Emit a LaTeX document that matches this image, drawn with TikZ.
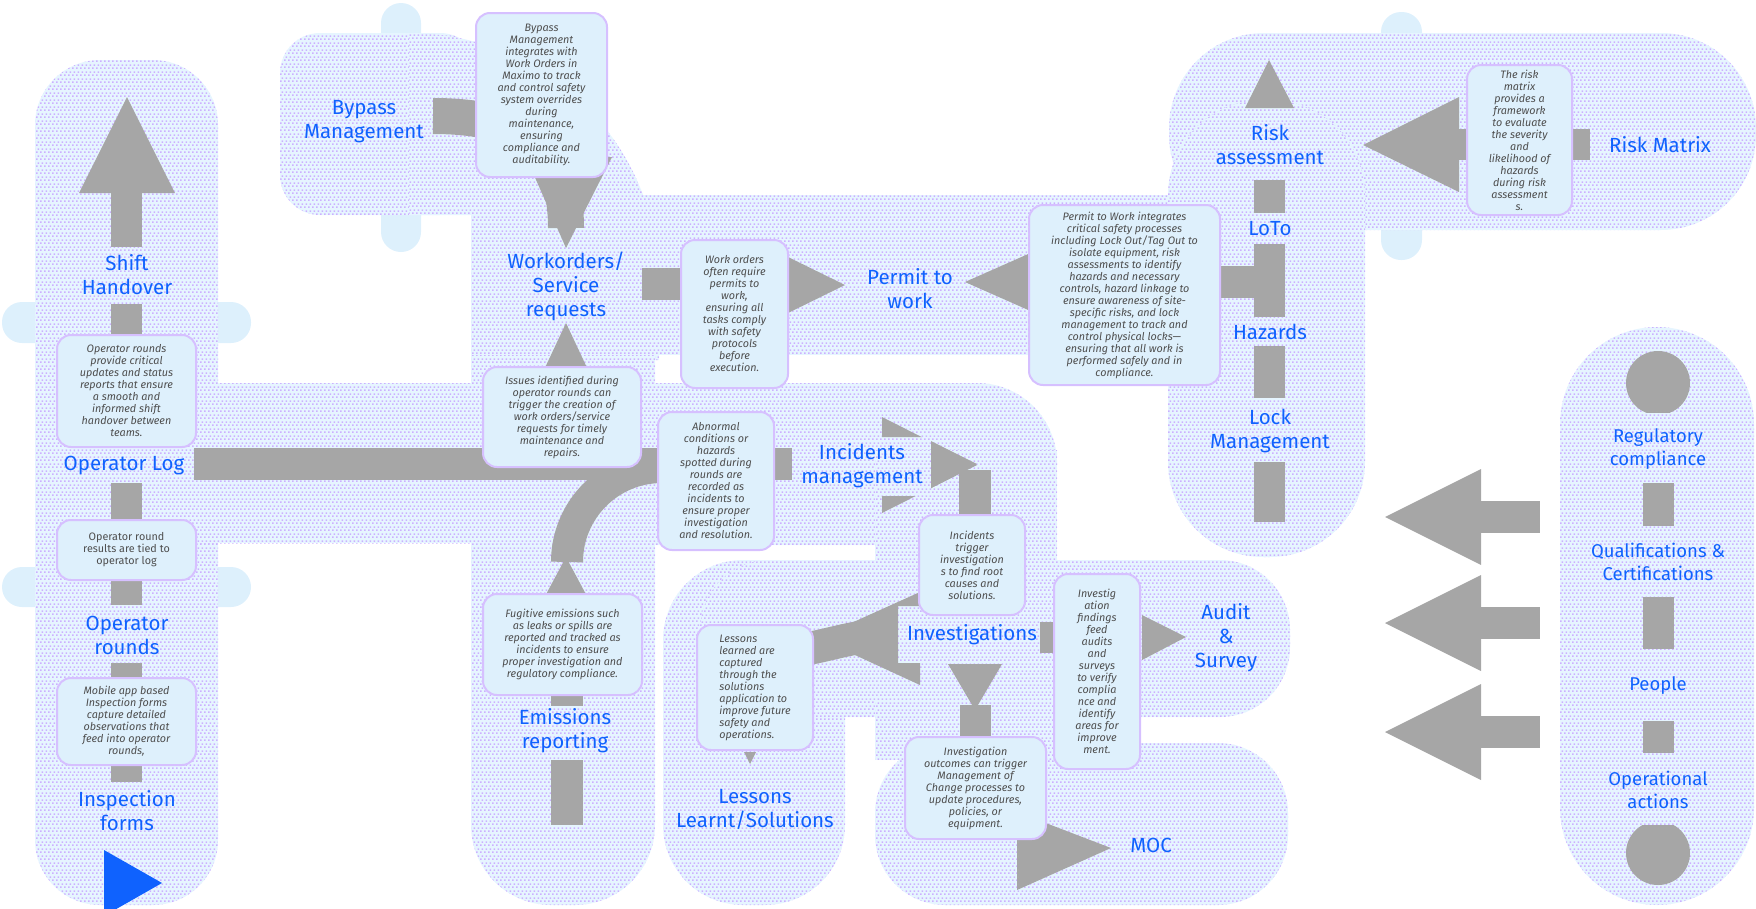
\documentclass[tikz,border=0pt]{standalone}
\usepackage{fontspec}
\setmainfont{Fira Sans}
\usetikzlibrary{patterns.meta}
\definecolor{ibmblue}{RGB}{15,98,254}
\definecolor{bargray}{RGB}{166,166,166}
\definecolor{bgblue}{RGB}{230,245,255}
\definecolor{dotlilac}{RGB}{204,176,255}
\definecolor{tabblue}{RGB}{221,240,252}
\definecolor{notefill}{RGB}{222,240,252}
\definecolor{noteline}{RGB}{214,192,255}
\definecolor{notetext}{RGB}{78,78,78}
\pgfdeclarepattern{
  name=dashrows,
  type=uncolored,
  bottom left={\pgfpoint{0pt}{0pt}},
  top right={\pgfpoint{4pt}{6.6pt}},
  tile size={\pgfpoint{4pt}{6.6pt}},
  code={
    \pgfpathrectangle{\pgfpoint{0pt}{0pt}}{\pgfpoint{2pt}{1.6pt}}
    \pgfpathrectangle{\pgfpoint{2pt}{3.3pt}}{\pgfpoint{2pt}{1.6pt}}
    \pgfusepath{fill}
  }
}
\tikzset{
  blob/.style={fill=bgblue, postaction={pattern=dashrows, pattern color=dotlilac}},
  tab/.style={fill=tabblue, rounded corners=20pt},
  bar/.style={fill=bargray},
  barline/.style={draw=bargray, line width=#1},
  barline/.default=32pt,
  lbl/.style={text=ibmblue, align=center, inner sep=0pt,
    font=\fontsize{20.5}{24}\selectfont},
  rlbl/.style={text=ibmblue, align=center, inner sep=0pt,
    font=\fontsize{18.5}{23}\selectfont},
  note/.style={fill=notefill, draw=noteline, line width=2pt, rounded corners=14pt,
    align=center, text=notetext, inner sep=2pt,
    font=\fontsize{10.8}{12}\selectfont\itshape},
}
\begin{document}
\begin{tikzpicture}[x=1pt, y=-1pt]
  \useasboundingbox (0,0) rectangle (1756,908);

  % side tabs
  \fill[tab] (2,302) rectangle (251,343);
  \fill[tab] (2,567) rectangle (251,607);
  \fill[tab] (381,3) rectangle (421,252);
  \fill[tab] (1381,12) rectangle (1422,260);

  % background regions
  \fill[blob, rounded corners=65pt] (35,60) rectangle (218,905);
  \fill[blob] (200,383) rectangle (490,543);
  \fill[blob, rounded corners=40pt] (280,33) rectangle (480,215);
  \fill[blob] (409,33) arc[start angle=-90, end angle=0, radius=250]
    -- (659,360) -- (471,360) -- (471,215) -- (409,215) -- cycle;
  \fill[blob, rounded corners=80pt] (471,195) rectangle (655,905);
  \fill[blob] (471,195) rectangle (1200,355);
  \fill[blob, rounded corners=80pt] (560,383) rectangle (1057,545);
  \fill[blob] (875,450) rectangle (1057,600);
  \fill[blob, rounded corners=80pt] (663,560) rectangle (845,905);
  \fill[blob, rounded corners=70pt] (700,560) rectangle (1290,717);
  \fill[blob, rounded corners=70pt] (875,743) rectangle (1288,905);
  \fill[blob] (875,700) rectangle (1140,760);
  \fill[blob, rounded corners=95pt] (1169,33) rectangle (1756,230);
  \fill[blob, rounded corners=95pt] (1168,100) rectangle (1365,557);
  \fill[blob, rounded corners=97pt] (1560,327) rectangle (1754,905);

  % left column
  \fill[bar] (79,193) -- (127,97) -- (175,193) -- cycle;
  \foreach \ya/\yb in {193/247, 304/335, 483/520, 580/605, 663/678, 765/782}
    \fill[bar] (111,\ya) rectangle (142,\yb);
  \fill[ibmblue] (104,850) -- (162,883) -- (104,916) -- cycle;

  % operator log line and emissions
  \fill[bar] (194,448) rectangle (665,480);
  \draw[barline] (567,562) arc[start angle=180, end angle=270, radius=95];
  \fill[bar] (543,600) -- (566,557) -- (589,600) -- cycle;
  \fill[bar] (551,690) rectangle (583,706);
  \fill[bar] (551,760) rectangle (583,825);
  \fill[bar] (543,372) -- (566,323) -- (589,372) -- cycle;

  % bypass to workorders
  \draw[barline=36pt] (433,116) .. controls (520,116) and (566,145) .. (566,228);
  \fill[bar] (526,157) -- (612,157) -- (566,248) -- cycle;

  % workorders to permit
  \fill[bar] (642,268) rectangle (800,300);
  \fill[bar] (788,257) -- (845,285) -- (788,313) -- cycle;
  \fill[bar] (1200,266) rectangle (1270,298);
  \fill[bar] (1035,251) -- (965,282) -- (1035,313) -- cycle;

  % risk column
  \fill[bar] (1245,108) -- (1269,60) -- (1294,108) -- cycle;
  \foreach \ya/\yb in {180/213, 244/317, 346/398, 462/522}
    \fill[bar] (1254,\ya) rectangle (1285,\yb);
  \fill[bar] (1459,97) -- (1363,145) -- (1459,192) -- cycle;
  \fill[bar] (1455,129) rectangle (1590,160);

  % right column
  \foreach \ya/\yb in {483/526, 597/649, 721/753}
    \fill[bar] (1643,\ya) rectangle (1674,\yb);
  \foreach \yc in {517, 623, 732} {
    \fill[bar] (1481,\yc-48) -- (1385,\yc) -- (1481,\yc+48) -- cycle;
    \fill[bar] (1478,\yc-16) rectangle (1540,\yc+16);
  }
  \begin{scope}
    \clip (1600,340) rectangle (1720,412);
    \fill[bar] (1658,383) circle (32);
  \end{scope}
  \begin{scope}
    \clip (1600,825) rectangle (1720,900);
    \fill[bar] (1658,853) circle (32);
  \end{scope}

  % incidents
  \fill[bar] (770,448) rectangle (792,480);
  \begin{scope}
    \clip (0,0) rectangle (1756,437) (0,496) rectangle (1756,908)
      (931,0) rectangle (1756,908);
    \fill[bar] (882,417) -- (977,465) -- (882,513) -- cycle;
  \end{scope}
  \fill[bar] (931,441) -- (977,464) -- (931,488) -- cycle;
  \fill[bar] (959,470) rectangle (991,515);

  % investigations
  \begin{scope}
    \clip (0,0) rectangle (898,908) (898,0) rectangle (1756,606)
      (898,663) rectangle (1756,908);
    \fill[bar] (920,592) -- (818,638) -- (920,685) -- cycle;
  \end{scope}
  \draw[barline=33pt] (800,650) .. controls (825,646) and (845,639) .. (870,636);
  \fill[bar] (744,752) -- (756,752) -- (750,764) -- cycle;
  \fill[bar] (1040,622) rectangle (1060,653);
  \fill[bar] (1142,615) -- (1186,637) -- (1142,660) -- cycle;
  \fill[bar] (948,664) -- (1002,664) -- (975,710) -- cycle;
  \fill[bar] (960,705) rectangle (991,740);
  \fill[bar] (1017,812) -- (1111,848) -- (1017,890) -- cycle;

  % notes
  \node[note, minimum width=139pt, minimum height=112pt] (n1) at (126.5,391)
    {Operator rounds\\provide critical\\updates and status\\reports that ensure\\a smooth and\\informed shift\\handover between\\teams.};
  \node[note, minimum width=139pt, minimum height=60pt, font=\fontsize{10.8}{12}\selectfont] (n2) at (126.5,550)
    {Operator round\\results are tied to\\operator log};
  \node[note, minimum width=139pt, minimum height=87pt] (n3) at (126.5,721.5)
    {Mobile app based\\Inspection forms\\capture detailed\\observations that\\feed into operator\\rounds,};
  \node[note, minimum width=131pt, minimum height=164pt] (n4) at (541.5,95)
    {Bypass\\Management\\integrates with\\Work Orders in\\Maximo to track\\and control safety\\system overrides\\during\\maintenance,\\ensuring\\compliance and\\auditability.};
  \node[note, minimum width=158pt, minimum height=100pt] (n5) at (562,417)
    {Issues identified during\\operator rounds can\\trigger the creation of\\work orders/service\\requests for timely\\maintenance and\\repairs.};
  \node[note, minimum width=107pt, minimum height=148pt] (n6) at (734.5,314)
    {Work orders\\often require\\permits to\\work,\\ensuring all\\tasks comply\\with safety\\protocols\\before\\execution.};
  \node[note, minimum width=191pt, minimum height=180pt] (n7) at (1124.5,295)
    {Permit to Work integrates\\critical safety processes\\including Lock Out/Tag Out to\\isolate equipment, risk\\assessments to identify\\hazards and necessary\\controls, hazard linkage to\\ensure awareness of site-\\specific risks, and lock\\management to track and\\control physical locks—\\ensuring that all work is\\performed safely and in\\compliance.};
  \node[note, minimum width=116pt, minimum height=138pt] (n8) at (716,481)
    {Abnormal\\conditions or\\hazards\\spotted during\\rounds are\\recorded as\\incidents to\\ensure proper\\investigation\\and resolution.};
  \node[note, minimum width=106pt, minimum height=100pt] (n9) at (972,565)
    {Incidents\\trigger\\investigation\\s to find root\\causes and\\solutions.};
  \node[note, minimum width=159pt, minimum height=101pt] (n10) at (562.5,644.5)
    {Fugitive emissions such\\as leaks or spills are\\reported and tracked as\\incidents to ensure\\proper investigation and\\regulatory compliance.};
  \node[note, align=left, minimum width=116pt, minimum height=125pt] (n11) at (755,687.5)
    {Lessons\\learned are\\captured\\through the\\solutions\\application to\\improve future\\safety and\\operations.};
  \node[note, minimum width=86pt, minimum height=195pt] (n12) at (1097,671.5)
    {Investig\\ation\\findings\\feed\\audits\\and\\surveys\\to verify\\complia\\nce and\\identify\\areas for\\improve\\ment.};
  \node[note, minimum width=141pt, minimum height=102pt] (n13) at (975.5,788)
    {Investigation\\outcomes can trigger\\Management of\\Change processes to\\update procedures,\\policies, or\\equipment.};
  \node[note, minimum width=105pt, minimum height=150pt] (n14) at (1519.5,140)
    {The risk\\matrix\\provides a\\framework\\to evaluate\\the severity\\and\\likelihood of\\hazards\\during risk\\assessment\\s.};

  % labels
  \node[lbl] (shift) at (127,275) {Shift\\Handover};
  \node[lbl] (oplog) at (124,465) {Operator Log};
  \node[lbl] (oprounds) at (127,635) {Operator\\rounds};
  \node[lbl] (inspect) at (127,811) {Inspection\\forms};
  \node[lbl] (bypass) at (364,122) {Bypass\\Management};
  \node[lbl] (workorders) at (566,286) {Workorders/\\Service\\requests};
  \node[lbl] (permit) at (910,289) {Permit to\\work};
  \node[lbl] (incidents) at (862,466) {Incidents\\management};
  \node[lbl] (investig) at (972,635) {Investigations};
  \node[lbl] (audit) at (1226,638) {Audit\\\&\\Survey};
  \node[lbl] (emissions) at (565,731) {Emissions\\reporting};
  \node[lbl] (lessons) at (755,809) {Lessons\\Learnt/Solutions};
  \node[lbl] (moc) at (1151,845) {MOC};
  \node[lbl] (riskassess) at (1270,145) {Risk\\assessment};
  \node[lbl] (loto) at (1270,229) {LoTo};
  \node[lbl] (hazards) at (1270,332) {Hazards};
  \node[lbl] (lockmgmt) at (1270,431) {Lock\\Management};
  \node[lbl] (riskmatrix) at (1660,145) {Risk Matrix};
  \node[rlbl] (regulatory) at (1658,449) {Regulatory\\compliance};
  \node[rlbl] (qualif) at (1658,562) {Qualifications \&\\Certifications};
  \node[rlbl] (people) at (1658,686) {People};
  \node[rlbl] (operational) at (1658,790) {Operational\\actions};
\end{tikzpicture}
\end{document}
